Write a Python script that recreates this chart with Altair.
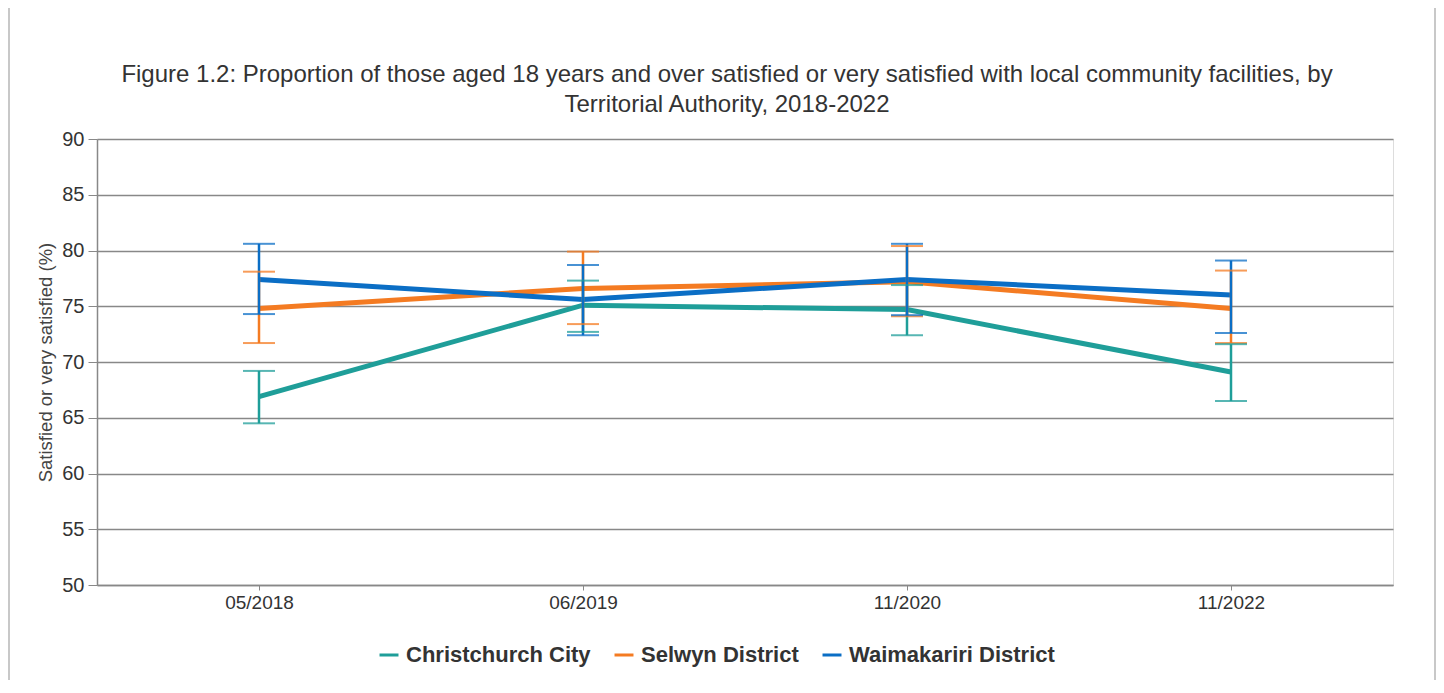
import altair as alt
import pandas as pd

periods = ["05/2018", "06/2019", "11/2020", "11/2022"]
series = ["Christchurch City", "Selwyn District", "Waimakariri District"]
colors = ["#1f9e99", "#f47b22", "#0b6ec5"]

christchurch_val = [66.9, 75.1, 74.7, 69.1]
christchurch_lo = [64.5, 72.7, 72.4, 66.5]
christchurch_hi = [69.2, 77.3, 76.9, 71.6]

selwyn_val = [74.8, 76.6, 77.2, 74.8]
selwyn_lo = [71.7, 73.4, 74.1, 71.7]
selwyn_hi = [78.1, 79.9, 80.4, 78.2]

waimakariri_val = [77.4, 75.6, 77.4, 76.0]
waimakariri_lo = [74.3, 72.4, 74.2, 72.6]
waimakariri_hi = [80.6, 78.7, 80.6, 79.1]

rows = []
for name, v, lo, hi in [
    (series[0], christchurch_val, christchurch_lo, christchurch_hi),
    (series[1], selwyn_val, selwyn_lo, selwyn_hi),
    (series[2], waimakariri_val, waimakariri_lo, waimakariri_hi),
]:
    for p, a, b, c in zip(periods, v, lo, hi):
        rows.append({"period": p, "series": name, "value": a, "lo": b, "hi": c})
df = pd.DataFrame(rows)

FONT = "Liberation Sans"

x = alt.X("period:N", sort=periods, title=None,
          scale=alt.Scale(type="point", padding=0.5),
          axis=alt.Axis(labelAngle=0, labelFontSize=19, labelColor="#333333",
                        labelFont=FONT, tickSize=5, tickColor="#888888",
                        domainColor="#888888", domainWidth=1.5, labelPadding=3,
                        grid=False))
color_scale = alt.Scale(domain=series, range=colors)
color = alt.Color("series:N", sort=series, scale=color_scale,
                  legend=alt.Legend(title=None, orient="none", direction="horizontal",
                                    legendX=281, legendY=505,
                                    symbolType="stroke", symbolStrokeWidth=3,
                                    symbolSize=360, labelFontSize=22,
                                    labelFontWeight="bold", labelFont=FONT,
                                    labelColor="#333333", columnPadding=17,
                                    labelLimit=0, symbolOffset=0, labelOffset=6))
color_nl = alt.Color("series:N", sort=series, scale=color_scale, legend=None)

base = alt.Chart(df)

frame = alt.Chart(pd.DataFrame({"k": [0]})).mark_rect(
    fill=None, stroke="#c8c8c8", strokeWidth=2).encode(
    x=alt.value(-88), x2=alt.value(1338), y=alt.value(-132), y2=alt.value(580))

lines = base.mark_line(strokeWidth=5).encode(
    x=x,
    y=alt.Y("value:Q", title="Satisfied or very satisfied (%)",
            scale=alt.Scale(domain=[50, 90], nice=False, zero=False),
            axis=alt.Axis(values=list(range(50, 91, 5)), labelFontSize=20,
                          labelColor="#333333", labelFont=FONT, tickSize=9,
                          tickColor="#888888", domainColor="#888888", domainWidth=1.5,
                          gridColor="#888888", gridWidth=1.5, labelPadding=4,
                          titleFontSize=18.5, titleFont=FONT, titleFontWeight="normal",
                          titleColor="#444444", titlePadding=6)),
    color=color,
)

rules = base.mark_rule(strokeWidth=2.5).encode(
    x=x, y=alt.Y("lo:Q"), y2="hi:Q", color=color_nl,
)
caps_lo = base.mark_tick(size=32, thickness=2, opacity=0.75).encode(
    x=x, y=alt.Y("lo:Q"), color=color_nl,
)
caps_hi = base.mark_tick(size=32, thickness=2, opacity=0.75).encode(
    x=x, y=alt.Y("hi:Q"), color=color_nl,
)

chart = alt.layer(frame, lines, rules, caps_lo, caps_hi).properties(
    width=1296,
    height=446,
    title=alt.TitleParams(
        text=["Figure 1.2: Proportion of those aged 18 years and over satisfied or very satisfied with local community facilities, by",
              "Territorial Authority, 2018-2022"],
        fontSize=24, font=FONT, fontWeight="normal", color="#333333",
        anchor="middle", lineHeight=30, offset=0, dx=-18, dy=111),
    autosize=alt.AutoSizeParams(type="none"),
    padding={"left": 89, "top": 131, "right": 43, "bottom": 95},
).configure_view(stroke=None).configure(background="white")

chart.save("out.html", embed_options={"renderer": "svg", "actions": False})
